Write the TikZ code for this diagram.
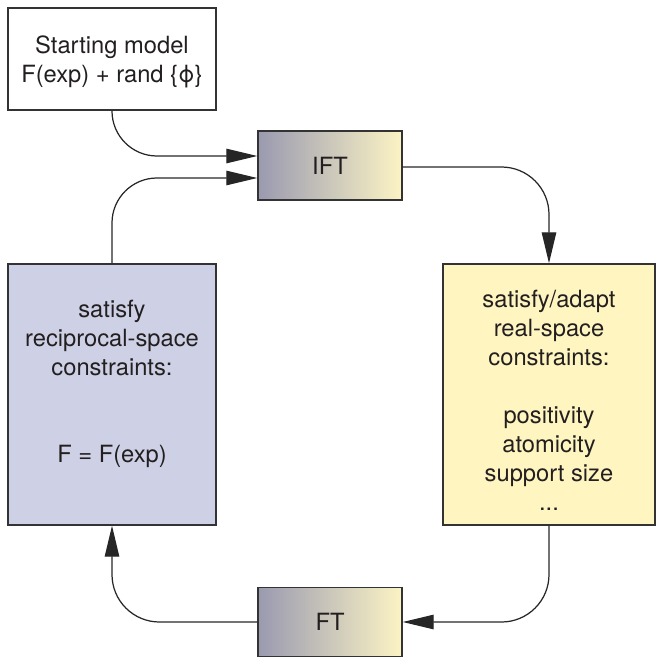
\documentclass[tikz,border=0pt]{standalone}
\usepackage{fontspec}
\setmainfont{TeX Gyre Heros}
\usetikzlibrary{arrows.meta}
\definecolor{recipfill}{HTML}{CED1E6}
\definecolor{realfill}{HTML}{FFF5C0}
\definecolor{ftleft}{HTML}{9A9AB0}
\definecolor{ftright}{HTML}{FCF4C4}
\definecolor{ink}{HTML}{231F20}

\begin{document}
\begin{tikzpicture}[x=0.02cm,y=-0.02cm,
  box/.style={draw=black!80,line width=0.85pt,align=center,inner sep=0pt,
    text=ink,font=\fontsize{13.5}{16.5}\selectfont},
  ftbox/.style={box,minimum width=2.88cm,minimum height=1.39cm,
    left color=ftleft,right color=ftright},
  link/.style={line width=0.7pt,draw=black!85,
    -{Triangle[length=0.62cm,width=0.29cm]}}]
  \useasboundingbox (0,0) rectangle (663,666);
  \draw(112,59) node[box,minimum width=4.16cm,minimum height=2.04cm] (Start)
    {\rule{0pt}{13pt}Starting model\\F(exp) + rand \{ϕ\}};
  \draw(330,165.5) node[ftbox] (IFT) {IFT};
  \draw(330,622) node[ftbox] (FT) {FT};
  \draw(112,394.5) node[box,fill=recipfill,minimum width=4.16cm,minimum height=5.22cm] (Recip)
    {satisfy\\reciprocal-space\\constraints:\\[33pt]F = F(exp)\\[-2pt]};
  \draw(549,394.5) node[box,fill=realfill,minimum width=4.24cm,minimum height=5.22cm] (Real)
    {\rule{0pt}{17pt}satisfy/adapt\\real-space\\constraints:\\[16.5pt]positivity\\atomicity\\support size\\...};
  \draw[link,rounded corners=0.9cm] (Start.south) |- ([yshift=0.19cm]IFT.west);
  \draw[link,rounded corners=0.9cm] (Recip.north) |- ([yshift=-0.25cm]IFT.west);
  \draw[link,rounded corners=0.95cm] ([yshift=-0.03cm]IFT.east) -| (Real.north);
  \draw[link,rounded corners=0.95cm] (Real.south) |- (FT.east);
  \draw[link,rounded corners=0.95cm] (FT.west) -| (Recip.south);
\end{tikzpicture}
\end{document}
